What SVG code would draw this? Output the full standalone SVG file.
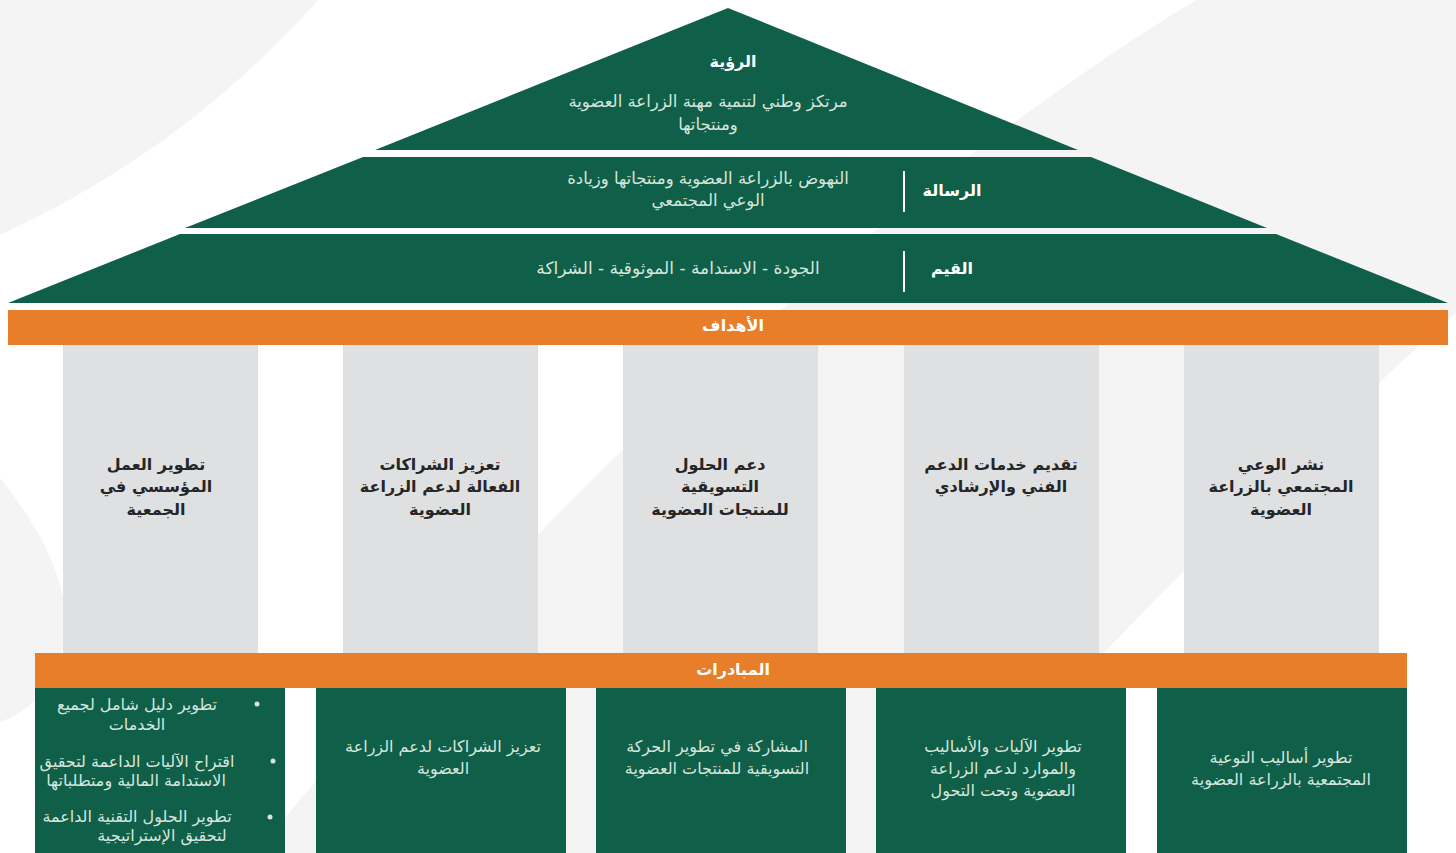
<svg xmlns="http://www.w3.org/2000/svg" width="1456" height="853" viewBox="0 0 1456 853">
<style>
.bg{fill:#f4f4f4}
.green{fill:#105f48}
.orange{fill:#e87e2a}
.col{fill:#dfe0e2}
.div{stroke:#ffffff;stroke-width:2}
text{font-family:"DejaVu Sans","Noto Sans",sans-serif;direction:rtl;text-anchor:middle}
.head{fill:#ffffff;font-weight:bold;font-size:16px}
.lt{fill:#d6e6de;font-size:16.5px}
.val{font-size:17px}
.goal{fill:#262626;font-weight:bold;font-size:16px}
.ini{fill:#d6e6de;font-size:16px}
.dot{fill:#d6e6de}
</style>
<rect width="1456" height="853" fill="#ffffff"/>
<g id="background">
<path class="bg" d="M0,0 L318,0 Q185,150 0,235 Z"/>
<path class="bg" d="M1196,0 L1456,0 L1456,313 C1300,450 1050,700 920,853 L255,853 C400,680 560,500 700,380 C850,250 1000,120 1196,0 Z"/>
<path class="bg" d="M0,478 C50,540 75,600 62,650 C52,690 28,712 0,722 Z"/>
</g>
<g id="vision">
<polygon class="green" points="728,8 1078,150 375,150"/>
<text class="head" x="733" y="67">الرؤية</text>
<text class="lt" x="708" y="107">مرتكز وطني لتنمية مهنة الزراعة العضوية</text>
<text class="lt" x="708" y="130">ومنتجاتها</text>
</g>
<g id="mission">
<polygon class="green" points="363,157 1091,157 1267,228 185,228"/>
<line class="div" x1="904" y1="171" x2="904" y2="212"/>
<text class="head" x="952" y="196">الرسالة</text>
<text class="lt" x="708" y="184">النهوض بالزراعة العضوية ومنتجاتها وزيادة</text>
<text class="lt" x="708" y="206">الوعي المجتمعي</text>
</g>
<g id="values">
<polygon class="green" points="180,234 1276,234 1448,303 8,303"/>
<line class="div" x1="904" y1="251" x2="904" y2="292"/>
<text class="head" x="952" y="274">القيم</text>
<text class="lt val" x="678" y="274">الجودة - الاستدامة - الموثوقية - الشراكة</text>
</g>
<g id="goals-bar">
<rect class="orange" x="8" y="310" width="1440" height="35"/>
<text class="head" x="733" y="331">الأهداف</text>
</g>
<g id="goal-1">
<rect class="col" x="63" y="345" width="195" height="308"/>
<text class="goal" x="156" y="470">تطوير العمل</text>
<text class="goal" x="156" y="492">المؤسسي في</text>
<text class="goal" x="156" y="515">الجمعية</text>
</g>
<g id="goal-2">
<rect class="col" x="343" y="345" width="195" height="308"/>
<text class="goal" x="440" y="470">تعزيز الشراكات</text>
<text class="goal" x="440" y="492">الفعالة لدعم الزراعة</text>
<text class="goal" x="440" y="515">العضوية</text>
</g>
<g id="goal-3">
<rect class="col" x="623" y="345" width="195" height="308"/>
<text class="goal" x="720" y="470">دعم الحلول</text>
<text class="goal" x="720" y="492">التسويقية</text>
<text class="goal" x="720" y="515">للمنتجات العضوية</text>
</g>
<g id="goal-4">
<rect class="col" x="904" y="345" width="195" height="308"/>
<text class="goal" x="1001" y="470">تقديم خدمات الدعم</text>
<text class="goal" x="1001" y="492">الفني والإرشادي</text>
</g>
<g id="goal-5">
<rect class="col" x="1184" y="345" width="195" height="308"/>
<text class="goal" x="1281" y="470">نشر الوعي</text>
<text class="goal" x="1281" y="492">المجتمعي بالزراعة</text>
<text class="goal" x="1281" y="515">العضوية</text>
</g>
<g id="initiatives-bar">
<rect class="orange" x="35" y="653" width="1372" height="35"/>
<text class="head" x="733" y="675">المبادرات</text>
</g>
<g id="initiative-1">
<rect class="green" x="35" y="688" width="250" height="165"/>
<circle class="dot" cx="257" cy="704" r="2.5"/>
<text class="ini" x="137" y="710">تطوير دليل شامل لجميع</text>
<text class="ini" x="137" y="730">الخدمات</text>
<circle class="dot" cx="273" cy="761" r="2.5"/>
<text class="ini" x="137" y="767">اقتراح الآليات الداعمة لتحقيق</text>
<text class="ini" x="136" y="786">الاستدامة المالية ومتطلباتها</text>
<circle class="dot" cx="270" cy="817" r="2.5"/>
<text class="ini" x="137" y="822">تطوير الحلول التقنية الداعمة</text>
<text class="ini" x="162" y="841">لتحقيق الإستراتيجية</text>
</g>
<g id="initiative-2">
<rect class="green" x="316" y="688" width="250" height="165"/>
<text class="ini" x="443" y="752">تعزيز الشراكات لدعم الزراعة</text>
<text class="ini" x="443" y="774">العضوية</text>
</g>
<g id="initiative-3">
<rect class="green" x="596" y="688" width="250" height="165"/>
<text class="ini" x="717" y="752">المشاركة في تطوير الحركة</text>
<text class="ini" x="717" y="774">التسويقية للمنتجات العضوية</text>
</g>
<g id="initiative-4">
<rect class="green" x="876" y="688" width="250" height="165"/>
<text class="ini" x="1003" y="752">تطوير الآليات والأساليب</text>
<text class="ini" x="1003" y="774">والموارد لدعم الزراعة</text>
<text class="ini" x="1003" y="796">العضوية وتحت التحول</text>
</g>
<g id="initiative-5">
<rect class="green" x="1157" y="688" width="250" height="165"/>
<text class="ini" x="1281" y="763">تطوير أساليب التوعية</text>
<text class="ini" x="1281" y="785">المجتمعية بالزراعة العضوية</text>
</g>
<g id="connectors"/>
</svg>
